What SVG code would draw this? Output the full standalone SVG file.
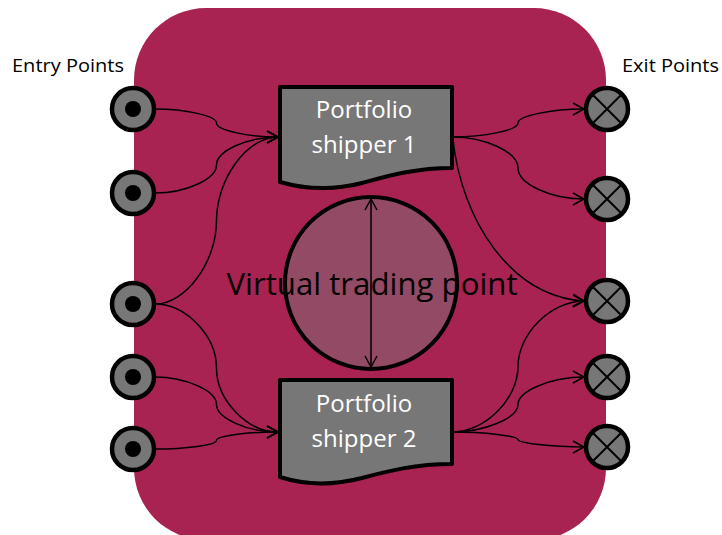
<svg xmlns="http://www.w3.org/2000/svg" width="722" height="535" viewBox="0 0 722 535">
  <defs>
    <style>
      .port { fill: #777777; stroke: #000; stroke-width: 4.5; }
      .dot { fill: #000; }
      .cross { stroke: #000; stroke-width: 2; }
      .doc { fill: #777777; stroke: #000; stroke-width: 4; stroke-linejoin: round; }
      .doc-text { font-family: "Open Sans", "Liberation Sans", sans-serif; font-size: 24px; fill: #ffffff; text-anchor: middle; }
      .side-label { font-family: "Open Sans", "Liberation Sans", sans-serif; font-size: 19px; fill: #000; }
      .wire { fill: none; stroke: #000; stroke-width: 1.5; marker-end: url(#open-arrow); }
    </style>
    <marker id="open-arrow" markerUnits="userSpaceOnUse" markerWidth="14" markerHeight="14" viewBox="0 0 14 14" refX="12" refY="7" orient="auto">
      <path d="M1,1 L12,7 L1,13" fill="none" stroke="#000" stroke-width="1.5"/>
    </marker>
    <marker id="open-arrow-start" markerUnits="userSpaceOnUse" markerWidth="14" markerHeight="14" viewBox="0 0 14 14" refX="12" refY="7" orient="auto-start-reverse">
      <path d="M1,1 L12,7 L1,13" fill="none" stroke="#000" stroke-width="1.5"/>
    </marker>
  </defs>

  <!-- hub area -->
  <rect id="hub" x="134" y="8" width="472" height="532" rx="72" ry="72" fill="#A82352"/>

  <text class="side-label" x="12" y="72" textLength="112" lengthAdjust="spacingAndGlyphs">Entry Points</text>
  <text class="side-label" x="622" y="72" textLength="97" lengthAdjust="spacingAndGlyphs">Exit Points</text>

  <!-- virtual trading point -->
  <g id="virtual-trading-point">
    <circle cx="371" cy="283" r="86" fill="#934A64" stroke="#000" stroke-width="4"/>
    <line x1="371" y1="199" x2="371" y2="367" stroke="#000" stroke-width="1.5" marker-start="url(#open-arrow-start)" marker-end="url(#open-arrow)"/>
    <text x="372" y="295" font-family="Open Sans, Liberation Sans, sans-serif" font-size="31" fill="#000" text-anchor="middle" textLength="291" lengthAdjust="spacingAndGlyphs">Virtual trading point</text>
  </g>

  <!-- connectors -->
  <g id="connectors">
    <path class="wire" d="M155,109 C186,109 216.5,116 216.5,123 C216.5,130 247,137 278,137"/>
    <path class="wire" d="M155,193 C186,193 216.5,179 216.5,165 C216.5,151 247,137 278,137"/>
    <path class="wire" d="M155,304 C186,304 216.5,262 216.5,220.5 C216.5,179 247,137 278,137"/>
    <path class="wire" d="M155,304 C186,304 216.5,336 216.5,368 C216.5,400 247,432 278,432"/>
    <path class="wire" d="M155,377 C186,377 216.5,391 216.5,404.5 C216.5,418 247,432 278,432"/>
    <path class="wire" d="M155,449 C186,449 216.5,445 216.5,440.5 C216.5,436 247,432 278,432"/>

    <path class="wire" d="M452,137 C485,137 518,130 518,123 C518,116 551,109 584,109"/>
    <path class="wire" d="M452,137 C485,137 518,152 518,168 C518,184 551,199 584,199"/>
    <path class="wire" d="M453,140 C462,220 510,296 584,301"/>
    <path class="wire" d="M452,432 C485,432 518,399 518,366.5 C518,334 551,301 584,301"/>
    <path class="wire" d="M452,432 C485,432 518,418 518,404.5 C518,391 551,377 584,377"/>
    <path class="wire" d="M452,432 C485,432 518,436 518,439.5 C518,443 551,447 584,447"/>
  </g>

  <!-- portfolio shippers -->
  <g id="shipper-1">
    <path class="doc" d="M280,87 H452 V168 C415,168 388,176 362,183 C335,190 308,190 280,182 Z"/>
    <text class="doc-text" x="364" y="118">Portfolio</text>
    <text class="doc-text" x="364" y="153">shipper 1</text>
  </g>
  <g id="shipper-2">
    <path class="doc" d="M280,380 H452 V464 C415,464 388,471 362,478 C335,485 308,486 280,477 Z"/>
    <text class="doc-text" x="364" y="412">Portfolio</text>
    <text class="doc-text" x="364" y="447">shipper 2</text>
  </g>

  <!-- entry points -->
  <g id="entry-1"><circle class="port" cx="133" cy="109" r="21"/><circle class="dot" cx="133" cy="109" r="8"/></g>
  <g id="entry-2"><circle class="port" cx="133" cy="193" r="21"/><circle class="dot" cx="133" cy="193" r="8"/></g>
  <g id="entry-3"><circle class="port" cx="133" cy="304" r="21"/><circle class="dot" cx="133" cy="304" r="8"/></g>
  <g id="entry-4"><circle class="port" cx="133" cy="377" r="21"/><circle class="dot" cx="133" cy="377" r="8"/></g>
  <g id="entry-5"><circle class="port" cx="133" cy="449" r="21"/><circle class="dot" cx="133" cy="449" r="8"/></g>

  <!-- exit points -->
  <g id="exit-1"><circle class="port" cx="607" cy="109" r="21"/><path class="cross" d="M593.5,95.5 L620.5,122.5 M620.5,95.5 L593.5,122.5"/></g>
  <g id="exit-2"><circle class="port" cx="607" cy="199" r="21"/><path class="cross" d="M593.5,185.5 L620.5,212.5 M620.5,185.5 L593.5,212.5"/></g>
  <g id="exit-3"><circle class="port" cx="607" cy="301" r="21"/><path class="cross" d="M593.5,287.5 L620.5,314.5 M620.5,287.5 L593.5,314.5"/></g>
  <g id="exit-4"><circle class="port" cx="607" cy="377" r="21"/><path class="cross" d="M593.5,363.5 L620.5,390.5 M620.5,363.5 L593.5,390.5"/></g>
  <g id="exit-5"><circle class="port" cx="607" cy="447" r="21"/><path class="cross" d="M593.5,433.5 L620.5,460.5 M620.5,433.5 L593.5,460.5"/></g>
</svg>
